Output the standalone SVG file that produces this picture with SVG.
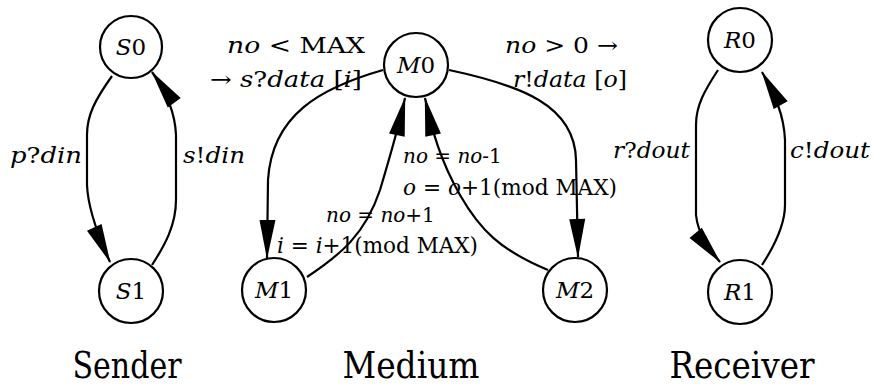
<svg xmlns="http://www.w3.org/2000/svg" width="874" height="389" viewBox="0 0 874 389">
<style>
.n{fill:#fff;stroke:#000;stroke-width:2.2}
.e{fill:none;stroke:#000;stroke-width:2.2}
text{font-family:'DejaVu Serif','Liberation Serif',serif;fill:#000}
.nl{font-size:23px;text-anchor:middle}
.lb{font-size:22px}
.sm{font-size:20px}
.i{font-style:italic}
.t{font-size:37px;text-anchor:middle}
</style>
<defs>
<marker id="ah" markerUnits="userSpaceOnUse" viewBox="-40 -10 42 20" refX="0" refY="0" markerWidth="42" markerHeight="20" orient="auto">
<path d="M1,0 L-38,-8 L-38,8 Z" fill="#000"/>
</marker>
</defs>
<g id="connectors">
<path class="e" d="M112,76 C95,100 87,115 87,135 L87,185 C88,210 100,240 110,262" marker-end="url(#ah)"/>
<path class="e" d="M152,265 C165,245 176,225 176,200 L176,135 C175,110 165,90 152,72" marker-end="url(#ah)"/>
<path class="e" d="M383,70 C320,88 272,115 268,180 L267,258" marker-end="url(#ah)"/>
<path class="e" d="M307,277 C340,255 365,235 380,190 C392,150 398,130 405,98" marker-end="url(#ah)"/>
<path class="e" d="M548,270 C500,250 480,230 460,195 C440,160 432,130 425,98" marker-end="url(#ah)"/>
<path class="e" d="M449,70 C520,85 575,105 576,160 L578,257" marker-end="url(#ah)"/>
<path class="e" d="M718,70 C705,90 696,105 696,125 L696,215 C698,235 710,250 720,262" marker-end="url(#ah)"/>
<path class="e" d="M762,265 C775,245 785,225 785,205 L785,140 C784,115 775,95 762,72" marker-end="url(#ah)"/>
</g>
<g id="S0"><circle class="n" cx="131" cy="47" r="31"/><text class="nl" x="131" y="55"><tspan class="i">S</tspan>0</text></g>
<g id="S1"><circle class="n" cx="131" cy="291" r="32"/><text class="nl" x="131" y="299"><tspan class="i">S</tspan>1</text></g>
<g id="M0"><circle class="n" cx="416" cy="65" r="32"/><text class="nl" x="416" y="73"><tspan class="i">M</tspan>0</text></g>
<g id="M1"><circle class="n" cx="274" cy="290" r="32"/><text class="nl" x="274" y="298"><tspan class="i">M</tspan>1</text></g>
<g id="M2"><circle class="n" cx="575" cy="290" r="32"/><text class="nl" x="575" y="298"><tspan class="i">M</tspan>2</text></g>
<g id="R0"><circle class="n" cx="740" cy="40" r="32"/><text class="nl" x="740" y="48"><tspan class="i">R</tspan>0</text></g>
<g id="R1"><circle class="n" cx="740" cy="292" r="32"/><text class="nl" x="740" y="300"><tspan class="i">R</tspan>1</text></g>
<g id="labels">
<text class="lb" x="10" y="163" textLength="72" lengthAdjust="spacingAndGlyphs"><tspan class="i">p</tspan>?<tspan class="i">din</tspan></text>
<text class="lb" x="183" y="163" textLength="62" lengthAdjust="spacingAndGlyphs"><tspan class="i">s</tspan>!<tspan class="i">din</tspan></text>
<text class="lb" x="613" y="158" textLength="77" lengthAdjust="spacingAndGlyphs"><tspan class="i">r</tspan>?<tspan class="i">dout</tspan></text>
<text class="lb" x="790" y="158" textLength="80" lengthAdjust="spacingAndGlyphs"><tspan class="i">c</tspan>!<tspan class="i">dout</tspan></text>
<text class="lb" x="227" y="53" textLength="138" lengthAdjust="spacingAndGlyphs"><tspan class="i">no</tspan>  &lt; MAX</text>
<text class="lb" x="210" y="87" textLength="152" lengthAdjust="spacingAndGlyphs">→ <tspan class="i">s</tspan>?<tspan class="i">data</tspan> [<tspan class="i">i</tspan>]</text>
<text class="lb" x="505" y="53" textLength="113" lengthAdjust="spacingAndGlyphs"><tspan class="i">no</tspan> &gt; 0 →</text>
<text class="lb" x="513" y="87" textLength="114" lengthAdjust="spacingAndGlyphs"><tspan class="i">r</tspan>!<tspan class="i">data</tspan> [<tspan class="i">o</tspan>]</text>
<text class="sm" x="403" y="163"><tspan class="i">no</tspan> = <tspan class="i">no</tspan>-1</text>
<text class="lb" x="403" y="195" textLength="214" lengthAdjust="spacingAndGlyphs"><tspan class="i">o</tspan> = <tspan class="i">o</tspan>+1(mod MAX)</text>
<text class="sm" x="326" y="222"><tspan class="i">no</tspan> = <tspan class="i">no</tspan>+1</text>
<text class="lb" x="277" y="253" textLength="201" lengthAdjust="spacingAndGlyphs"><tspan class="i">i</tspan> = <tspan class="i">i</tspan>+1(mod MAX)</text>
<text class="t" x="127" y="378" textLength="109" lengthAdjust="spacingAndGlyphs">Sender</text>
<text class="t" x="411" y="378" textLength="137" lengthAdjust="spacingAndGlyphs">Medium</text>
<text class="t" x="742" y="378" textLength="145" lengthAdjust="spacingAndGlyphs">Receiver</text>
</g>
</svg>
